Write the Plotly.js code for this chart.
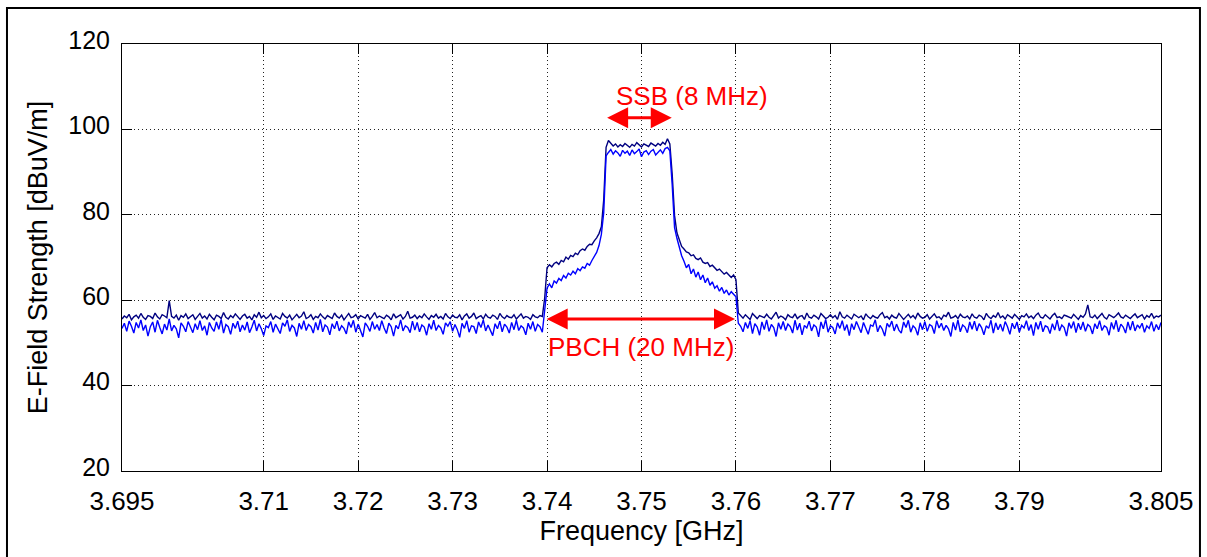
<!DOCTYPE html>
<html>
<head>
<meta charset="utf-8">
<script src="https://cdn.plot.ly/plotly-3.0.1.min.js"></script>
<style>html,body{margin:0;padding:0;background:#fff;}#chart{width:1207px;height:557px;}</style>
</head>
<body>
<div id="chart"></div>
<script>
// Sampling of the frequency axis (GHz)
const freqStart = 3.695;
const freqStep = 0.00025;

// Tick labels
const xTickVals = [3.695, 3.71, 3.72, 3.73, 3.74, 3.75, 3.76, 3.77, 3.78, 3.79, 3.805];
const xTickText = ["3.695", "3.71", "3.72", "3.73", "3.74", "3.75", "3.76", "3.77", "3.78", "3.79", "3.805"];
const yTickVals = [20, 40, 60, 80, 100, 120];

// Trace 1 (dark navy) segments, dBuV/m
const navyFloorLeft = [
55.6,56.3,55.9,56.7,55.4,56.1,56.5,55.8,56.9,56.0,
55.5,56.4,56.2,55.7,57.0,56.1,55.6,56.6,56.3,55.9,
59.9,56.2,55.8,56.5,55.3,56.4,56.0,56.8,55.7,56.2,
56.6,55.5,56.1,56.9,55.8,56.3,55.6,56.7,56.0,55.4,
56.5,56.2,55.7,57.1,56.0,55.6,56.4,55.9,56.8,56.1,
55.5,56.3,56.7,55.8,56.2,55.4,56.6,56.0,57.2,55.9,
56.4,55.7,56.1,56.8,55.5,56.3,56.0,55.6,56.9,56.2,
55.8,56.5,55.4,56.1,56.7,55.9,56.3,57.3,55.7,56.0,
56.6,55.5,56.2,55.9,56.8,56.1,55.6,56.4,56.0,55.7,
57.0,56.2,55.8,56.5,55.4,56.3,56.9,55.9,56.1,56.6,
55.6,56.4,56.0,55.8,56.7,55.5,56.2,57.1,55.9,56.3,
56.0,55.7,56.5,56.1,55.4,56.8,55.9,56.3,56.6,55.6,
56.2,57.4,55.8,56.0,56.5,55.7,56.3,55.9,56.8,56.1,
55.5,56.4,56.0,56.7,55.8,56.2,55.6,56.9,56.1,55.7,
56.5,56.0,55.9,56.6,55.4,56.3,56.8,55.8,56.2,57.0,
55.7,56.1,56.4,55.6,56.7,56.0,55.8,56.5,56.2,55.5,
56.9,56.1,55.7,56.4,56.0,55.9,56.6,55.6,56.3,56.8,
55.8,56.2,56.0,55.5,56.6,56.1,55.9,56.4,56.2];
const navyRiseLeft = [60.5, 67.6];
const navySkirtLeft = [68.3,67.8,68.6,68.9,68.4,69.3,69.0,70.1,69.6,70.5,70.2,71.0,70.7,71.6,72.0,71.7,72.6,73.1,73.0,73.9,74.6,75.6,77.2];
const navyStepUp = [83.5, 95.8];
const navyTop = [97.4,96.8,96.1,96.6,95.9,96.4,96.0,96.7,96.2,95.8,96.5,96.1,96.9,96.3,95.9,96.6,96.2,96.0,96.8,96.4,96.1,96.7,96.3,97.0,96.5,97.8,96.6];
const navyStepDown = [89.5, 79.8];
const navySkirtRight = [75.8,74.0,72.6,72.0,71.3,71.1,70.4,70.6,69.8,69.5,69.9,68.9,68.6,68.8,67.9,68.2,67.5,67.0,67.3,66.6,66.1,66.5,65.8,65.3,65.9];
const navyFallRight = [64.8, 57.0];
const navyFloorRight = [
56.3,55.8,56.6,56.0,55.5,56.9,56.2,55.7,56.4,56.1,
55.9,56.7,56.0,55.6,56.5,57.2,55.8,56.3,56.0,55.4,
56.6,56.1,55.9,56.8,55.7,56.2,56.4,55.5,57.0,56.0,
55.8,56.5,56.1,55.6,56.9,56.3,55.7,56.0,56.6,55.9,
56.4,55.5,57.3,56.1,55.8,56.5,56.0,55.6,56.7,56.2,
55.9,56.3,55.4,56.8,56.1,55.7,56.4,56.0,55.8,56.6,
57.1,55.9,56.2,55.6,56.5,56.0,55.8,56.9,56.3,55.5,
56.1,56.7,55.9,56.4,55.7,57.0,56.2,55.8,56.0,56.6,
55.6,56.3,56.8,55.9,56.1,55.5,56.5,56.2,57.2,55.8,
56.0,56.4,55.7,56.7,56.1,55.9,56.3,55.6,56.8,56.0,
55.8,56.5,56.2,55.4,56.9,56.1,55.7,56.4,56.0,57.1,
55.9,56.3,55.6,56.6,56.2,55.8,56.7,56.0,55.5,56.4,
56.1,56.8,55.9,56.3,55.7,56.5,57.0,56.0,55.8,56.6,
56.2,55.6,56.4,56.9,55.9,56.1,55.7,56.5,56.3,56.0,
55.8,56.7,56.2,55.5,56.4,56.0,56.8,58.9,56.1,55.9,
56.5,55.7,56.3,56.9,56.0,55.6,56.6,56.2,55.9,56.4,
57.0,56.1,55.8,56.5,56.0,55.7,56.3,56.8,55.9,56.2,
56.6,55.6,56.4,56.0,56.9,55.8,56.3,56.1,56.5];

// Trace 2 (blue) segments, dBuV/m
const blueFloorLeft = [
53.4,54.6,52.7,55.1,53.9,52.3,54.8,53.5,55.4,52.9,
54.2,51.6,53.8,54.9,52.5,55.3,53.6,52.1,54.4,53.0,
55.6,52.8,54.1,53.3,51.2,54.7,53.9,52.6,55.0,53.7,
52.4,54.5,53.1,55.2,52.9,54.0,51.8,54.8,53.5,52.7,
54.9,53.2,55.5,52.3,54.3,53.8,52.0,54.6,53.4,55.1,
52.6,54.2,53.0,54.9,52.4,53.7,55.3,52.8,54.5,53.3,
51.7,54.0,53.6,55.0,52.5,54.4,53.1,52.2,54.7,53.9,
55.4,52.7,54.1,53.5,51.5,54.6,53.2,55.2,52.9,54.3,
53.8,52.3,54.8,53.0,55.5,52.6,54.2,53.7,51.9,54.5,
53.3,55.1,52.8,54.0,53.4,52.1,54.9,53.6,55.3,52.5,
54.4,53.1,51.4,54.7,53.9,52.7,55.0,53.2,54.3,52.9,
55.2,53.5,52.2,54.6,53.8,51.6,54.1,53.3,55.4,52.8,
54.0,53.6,52.4,55.1,53.0,54.8,52.6,54.2,53.7,51.8,
54.5,53.2,55.3,52.9,54.1,53.5,52.0,54.7,53.9,55.0,
52.7,54.3,53.1,51.3,54.6,53.4,55.2,52.5,54.0,53.8,
52.2,54.9,53.6,55.4,52.8,54.2,53.0,51.7,54.5,53.3,
55.1,52.6,54.4,53.7,52.3,54.8,53.1,55.3,52.9,54.0,
53.5,51.9,54.6,53.2,55.0,52.7,54.3,53.8,52.5];
const blueRiseLeft = [57.5, 62.8];
const blueSkirtLeft = [63.8,62.9,64.5,64.0,65.1,64.6,65.8,65.2,66.3,65.9,66.8,66.2,67.4,66.9,67.8,67.5,68.6,68.2,69.3,70.1,71.2,72.8,75.4];
const blueStepUp = [80.5, 93.8];
const blueTop = [94.6,95.3,94.2,95.0,94.5,93.7,95.1,94.4,94.9,93.9,95.2,94.3,94.8,95.4,93.6,94.7,95.0,94.1,94.9,95.3,94.0,94.6,95.2,94.4,95.5,95.8,95.0];
const blueStepDown = [87.0, 77.0];
const blueSkirtRight = [74.5,72.3,70.4,69.1,67.6,68.4,66.2,67.3,65.4,66.6,64.8,65.9,64.1,65.2,63.5,64.3,62.8,63.4,62.1,63.0,61.6,62.4,61.2,62.0,61.5];
const blueFallRight = [60.8, 54.6];
const blueFloorRight = [
53.9,52.6,54.8,53.4,55.2,52.2,54.5,53.7,51.8,54.9,
53.1,55.4,52.7,54.3,53.6,51.5,54.7,53.2,55.0,52.9,
54.4,53.8,52.3,55.3,53.0,54.6,51.9,54.1,53.5,55.1,
52.8,54.2,53.7,51.4,54.9,53.3,55.5,52.5,54.0,53.6,
52.1,54.7,53.4,55.2,52.9,54.3,51.7,54.5,53.1,55.0,
53.8,52.4,54.8,53.5,52.0,54.2,53.9,55.4,52.6,54.1,
53.2,51.6,54.6,53.7,55.1,52.8,54.4,53.0,52.3,54.9,
53.6,55.3,52.5,54.0,53.4,51.8,54.7,53.1,55.0,52.7,
54.3,53.9,52.2,55.2,53.5,54.6,52.9,54.1,53.3,51.5,
54.8,53.0,55.4,52.6,54.2,53.7,52.4,54.9,53.2,55.1,
52.8,54.5,53.6,51.9,54.0,53.4,55.3,52.3,54.7,53.1,
54.4,52.7,55.0,53.8,52.0,54.6,53.3,54.9,52.5,54.1,
53.5,55.2,52.9,54.3,51.7,54.8,53.2,55.1,52.6,54.0,
53.7,52.2,54.5,53.0,55.4,52.8,54.2,53.6,51.6,54.7,
53.4,55.0,52.4,54.6,53.1,54.9,52.7,54.3,53.8,52.1,
54.5,53.3,55.2,52.9,54.0,53.6,51.8,54.8,53.2,55.3,
52.6,54.4,53.7,52.3,54.9,53.0,55.1,52.8,54.2,53.5,
54.6,52.5,54.0,53.4,55.0,52.7,54.3,53.1,54.8];

// Annotation labels and spans (GHz, dBuV/m)
const ssbLabel = "SSB (8 MHz)";
const pbchLabel = "PBCH (20 MHz)";
const ssbSpan = [3.7462, 3.7532];
const ssbArrowLevel = 102.7;
const pbchSpan = [3.7398, 3.7599];
const pbchArrowLevel = 55.6;

const navy = [].concat(navyFloorLeft, navyRiseLeft, navySkirtLeft, navyStepUp, navyTop, navyStepDown, navySkirtRight, navyFallRight, navyFloorRight);
const blue = [].concat(blueFloorLeft, blueRiseLeft, blueSkirtLeft, blueStepUp, blueTop, blueStepDown, blueSkirtRight, blueFallRight, blueFloorRight);

const FONT = "Liberation Sans, Arial, sans-serif";

const traces = [
  {type: "scatter", mode: "lines", y: navy, x0: freqStart, dx: freqStep,
   line: {color: "#000080", width: 1.4}, hoverinfo: "skip"},
  {type: "scatter", mode: "lines", y: blue, x0: freqStart, dx: freqStep,
   line: {color: "#0000ff", width: 1.4}, hoverinfo: "skip"}
];

const axisCommon = {
  showline: true, mirror: "ticks", linecolor: "#000", linewidth: 1,
  ticks: "inside", ticklen: 10, tickcolor: "#000", tickwidth: 1,
  showgrid: true, gridcolor: "#222", griddash: "1px,3px", gridwidth: 1,
  zeroline: false
};

const layout = {
  width: 1207, height: 557,
  margin: {l: 122, r: 46, t: 44, b: 86},
  paper_bgcolor: "#fff", plot_bgcolor: "#fff",
  showlegend: false,
  font: {family: FONT, color: "#000"},
  xaxis: Object.assign({}, axisCommon, {
    range: [3.695, 3.805], tickmode: "array", tickvals: xTickVals, ticktext: xTickText,
    tickfont: {family: FONT, size: 26, color: "#000"},
    ticklabelstandoff: 7,
    title: {text: "Frequency [GHz]", font: {family: FONT, size: 27, color: "#000"}, standoff: 1}
  }),
  yaxis: Object.assign({}, axisCommon, {
    range: [20, 120], tickmode: "array", tickvals: yTickVals,
    tickfont: {family: FONT, size: 25, color: "#000"},
    ticklabelstandoff: 6, ticklabelshift: -4,
    title: {text: "E-Field Strength [dBuV/m]", font: {family: FONT, size: 27, color: "#000"}, standoff: 12}
  }),
  shapes: [
    {type: "rect", xref: "paper", yref: "paper", x0: -0.1107, x1: 1.0375, y0: -0.25, y1: 1.0843,
     line: {color: "#000", width: 2}, fillcolor: "rgba(0,0,0,0)", layer: "above"}
  ],
  annotations: [
    {xref: "x", yref: "y", axref: "x", ayref: "y",
     x: ssbSpan[1], y: ssbArrowLevel, ax: ssbSpan[0], ay: ssbArrowLevel,
     text: "", showarrow: true, arrowside: "end+start", arrowhead: 2, arrowsize: 1.4,
     arrowwidth: 3, arrowcolor: "#ff0000", standoff: 0, startstandoff: 0},
    {xref: "x", yref: "y", axref: "x", ayref: "y",
     x: pbchSpan[1], y: pbchArrowLevel, ax: pbchSpan[0], ay: pbchArrowLevel,
     text: "", showarrow: true, arrowside: "end+start", arrowhead: 2, arrowsize: 1.4,
     arrowwidth: 3, arrowcolor: "#ff0000", standoff: 0, startstandoff: 0},
    {xref: "x", yref: "y", x: 3.7553, y: 107.8, text: ssbLabel, showarrow: false,
     font: {family: FONT, size: 26, color: "#ff0000"}},
    {xref: "x", yref: "y", x: 3.7499, y: 49.0, text: pbchLabel, showarrow: false,
     font: {family: FONT, size: 26, color: "#ff0000"}}
  ]
};

Plotly.newPlot("chart", traces, layout, {displayModeBar: false, staticPlot: true});
</script>
</body>
</html>
